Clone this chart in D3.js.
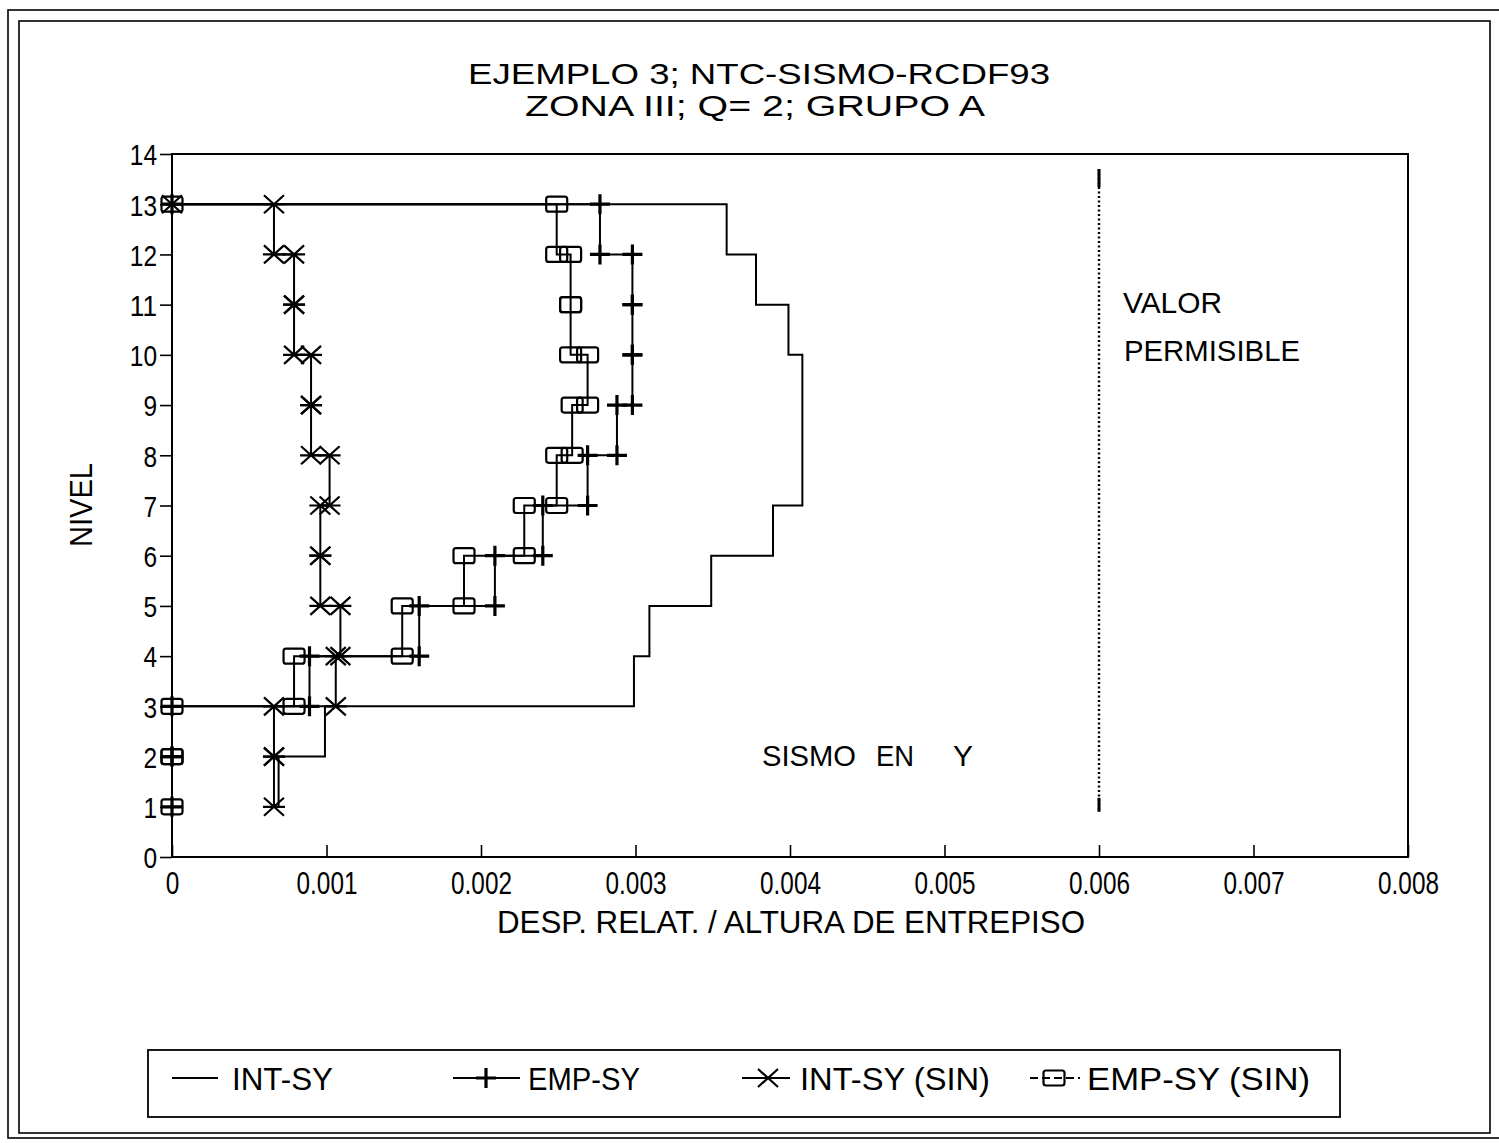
<!DOCTYPE html>
<html>
<head>
<meta charset="utf-8">
<script src="https://cdn.jsdelivr.net/npm/d3@7/dist/d3.min.js"></script>
<style>
  html, body { margin: 0; padding: 0; background: #fff; }
  svg { display: block; }
  .narrow { font-family: "Liberation Sans Narrow", "Arial Narrow", "Liberation Sans", Arial, sans-serif; }
  .regular { font-family: "Liberation Sans", Arial, Helvetica, sans-serif; }
</style>
</head>
<body>
<svg id="chart" width="1499" height="1143"></svg>
<script>
// Storey numbers: storey j spans from level j-1 up to level j
const storeys = [2, 3, 4, 5, 6, 7, 8, 9, 10, 11, 12, 13];
const roofLevel = 13;

// Relative storey drift / storey height, one value per storey (2..13)
const intSY    = [0.00069, 0.00099, 0.00299, 0.00309, 0.00349, 0.00389, 0.00408, 0.00408, 0.00408, 0.00399, 0.00378, 0.00359];
const empSY    = [0, 0, 0.00089, 0.00160, 0.00209, 0.00240, 0.00269, 0.00288, 0.00298, 0.00298, 0.00298, 0.00277];
const intSYSin = [0.00066, 0.00066, 0.00106, 0.00109, 0.00096, 0.00096, 0.00102, 0.00090, 0.00090, 0.00079, 0.00079, 0.00066];
const empSYSin = [0, 0, 0.00079, 0.00149, 0.00189, 0.00228, 0.00249, 0.00259, 0.00269, 0.00258, 0.00258, 0.00249];

const seriesNames = ["INT-SY", "EMP-SY", "INT-SY (SIN)", "EMP-SY  (SIN)"];
const seriesMarkers = ["none", "plus", "asterisk", "square"];

// Allowed drift and the span of the limit line
const limitValue = 0.006;
const limitSpan = [0.9, 13.7];

const xTicks = [0, 0.001, 0.002, 0.003, 0.004, 0.005, 0.006, 0.007, 0.008];
const yTicks = [0, 1, 2, 3, 4, 5, 6, 7, 8, 9, 10, 11, 12, 13, 14];

const titleLines = ["EJEMPLO 3; NTC-SISMO-RCDF93", "ZONA III; Q= 2; GRUPO A"];
const xTitle = "DESP.  RELAT. / ALTURA DE ENTREPISO";
const yTitle = "NIVEL";

const svg = d3.select("#chart");

// Page frames
svg.append("rect").attr("x", 8).attr("y", 10).attr("width", 1500).attr("height", 1128)
  .attr("fill", "none").attr("stroke", "#000").attr("stroke-width", 1.6);
svg.append("rect").attr("x", 19).attr("y", 21).attr("width", 1471).attr("height", 1112)
  .attr("fill", "none").attr("stroke", "#000").attr("stroke-width", 1.6);

const plot = { left: 172, right: 1408, top: 154, bottom: 857 };
const x = d3.scaleLinear().domain([0, 0.008]).range([plot.left, plot.right]);
const y = d3.scaleLinear().domain([0, 14]).range([plot.bottom, plot.top]);

function fit(sel, w) {
  sel.attr("textLength", w).attr("lengthAdjust", "spacingAndGlyphs");
}
function labelWidth(s) {
  let w = 0;
  for (const c of s) w += (c === ".") ? 6.5 : 13.6;
  return w;
}

// Title
svg.append("text").attr("class", "narrow").attr("x", 759).attr("y", 84)
  .attr("text-anchor", "middle").attr("font-size", 30).text(titleLines[0])
  .call(fit, 582);
svg.append("text").attr("class", "narrow").attr("x", 755).attr("y", 116)
  .attr("text-anchor", "middle").attr("font-size", 30).text(titleLines[1])
  .call(fit, 460);

// Axes
const xAxis = d3.axisBottom(x).tickValues(xTicks).tickSize(-12).tickPadding(15)
  .tickFormat(d => d === 0 ? "0" : d3.format(".3f")(d));
const gx = svg.append("g").attr("transform", `translate(0,${plot.bottom})`).call(xAxis);
gx.select(".domain").remove();
gx.selectAll("line").attr("stroke", "#000").attr("stroke-width", 1.6);
gx.selectAll("text").attr("class", "narrow").attr("font-size", 31).attr("fill", "#000")
  .each(function(d) { const s = d3.select(this); fit(s, labelWidth(s.text())); });

const yAxis = d3.axisLeft(y).tickValues(yTicks).tickSize(12).tickPadding(3).tickFormat(d3.format("d"));
const gy = svg.append("g").attr("transform", `translate(${plot.left},0)`).call(yAxis);
gy.select(".domain").remove();
gy.selectAll("line").attr("stroke", "#000").attr("stroke-width", 1.6);
gy.selectAll("text").attr("class", "narrow").attr("font-size", 30).attr("fill", "#000")
  .attr("dy", "0.36em")
  .each(function(d) { const s = d3.select(this); fit(s, labelWidth(s.text())); });

// Plot box
svg.append("rect").attr("x", plot.left).attr("y", plot.top)
  .attr("width", plot.right - plot.left).attr("height", plot.bottom - plot.top)
  .attr("fill", "none").attr("stroke", "#000").attr("stroke-width", 2);

// Axis titles
svg.append("text").attr("class", "narrow").attr("x", 791).attr("y", 933)
  .attr("text-anchor", "middle").attr("font-size", 32).text(xTitle).call(fit, 588);
svg.append("text").attr("class", "narrow")
  .attr("transform", "translate(92,505) rotate(-90)")
  .attr("text-anchor", "middle").attr("font-size", 32).text(yTitle).call(fit, 84);

// Step profile: each storey value held from the floor below to the floor above, closing at the roof
function profile(values) {
  const pts = [];
  values.forEach((v, i) => {
    pts.push([v, storeys[i] - 1]);
    pts.push([v, storeys[i]]);
  });
  pts.push([0, roofLevel]);
  return pts;
}

const line = d3.line().x(d => x(d[0])).y(d => y(d[1]));

function drawMarker(g, type, cx, cy) {
  if (type === "plus") {
    g.append("path").attr("d", `M${cx - 10},${cy}H${cx + 10}M${cx},${cy - 10}V${cy + 10}`)
      .attr("stroke", "#000").attr("stroke-width", 3.2).attr("fill", "none");
  } else if (type === "asterisk") {
    g.append("path").attr("d",
      `M${cx - 11},${cy}H${cx + 11}M${cx - 10},${cy - 9}L${cx + 10},${cy + 9}M${cx - 10},${cy + 9}L${cx + 10},${cy - 9}`)
      .attr("stroke", "#000").attr("stroke-width", 2.2).attr("fill", "none");
  } else if (type === "square") {
    g.append("rect").attr("x", cx - 10.5).attr("y", cy - 7.5).attr("width", 21).attr("height", 15)
      .attr("rx", 2.5).attr("fill", "none").attr("stroke", "#000").attr("stroke-width", 2.2);
  }
}

const allSeries = [intSY, empSY, intSYSin, empSYSin];
const gData = svg.append("g");
allSeries.forEach((vals, k) => {
  const pts = profile(vals);
  gData.append("path").datum(pts).attr("d", line)
    .attr("fill", "none").attr("stroke", "#000").attr("stroke-width", 2)
    .attr("stroke-linejoin", "miter");
  if (seriesMarkers[k] !== "none") {
    const gm = gData.append("g");
    pts.forEach(p => drawMarker(gm, seriesMarkers[k], x(p[0]), y(p[1])));
  }
});

// Allowed drift limit
const limX = x(limitValue);
svg.append("line").attr("x1", limX).attr("x2", limX)
  .attr("y1", y(limitSpan[1])).attr("y2", y(limitSpan[0]))
  .attr("stroke", "#000").attr("stroke-width", 2.4).attr("stroke-dasharray", "2,2.5");
svg.append("line").attr("x1", limX).attr("x2", limX)
  .attr("y1", y(limitSpan[1])).attr("y2", y(limitSpan[1]) + 18)
  .attr("stroke", "#000").attr("stroke-width", 3);
svg.append("line").attr("x1", limX).attr("x2", limX)
  .attr("y1", y(limitSpan[0]) - 14).attr("y2", y(limitSpan[0]))
  .attr("stroke", "#000").attr("stroke-width", 3);

// Annotations
svg.append("text").attr("class", "regular").attr("x", 1123).attr("y", 313)
  .attr("font-size", 29).text("VALOR").call(fit, 99);
svg.append("text").attr("class", "regular").attr("x", 1124).attr("y", 361)
  .attr("font-size", 29).text("PERMISIBLE").call(fit, 176);
svg.append("text").attr("class", "regular").attr("x", 762).attr("y", 766)
  .attr("font-size", 29).text("SISMO").call(fit, 94);
svg.append("text").attr("class", "regular").attr("x", 876).attr("y", 766)
  .attr("font-size", 29).text("EN").call(fit, 38);
svg.append("text").attr("class", "regular").attr("x", 953).attr("y", 766)
  .attr("font-size", 29).text("Y").call(fit, 20);

// Legend
svg.append("rect").attr("x", 148).attr("y", 1050).attr("width", 1192).attr("height", 67)
  .attr("fill", "none").attr("stroke", "#000").attr("stroke-width", 1.8);
const legendItems = [
  { x1: 172, x2: 218, mx: 195, tx: 232, tw: 101 },
  { x1: 453, x2: 520, mx: 486, tx: 528, tw: 112 },
  { x1: 742, x2: 790, mx: 768, tx: 800, tw: 190 },
  { x1: 1030, x2: 1080, mx: 1054, tx: 1087, tw: 223 }
];
const legendY = 1078;
const gl = svg.append("g");
legendItems.forEach((it, k) => {
  gl.append("line").attr("x1", it.x1).attr("x2", it.x2).attr("y1", legendY).attr("y2", legendY)
    .attr("stroke", "#000").attr("stroke-width", 2)
    .attr("stroke-dasharray", k === 3 ? "8,4" : null);
  if (seriesMarkers[k] !== "none") drawMarker(gl, seriesMarkers[k], it.mx, legendY);
  gl.append("text").attr("class", "narrow").attr("x", it.tx).attr("y", legendY + 12)
    .attr("font-size", 31).text(seriesNames[k]).call(fit, it.tw);
});
</script>
</body>
</html>
